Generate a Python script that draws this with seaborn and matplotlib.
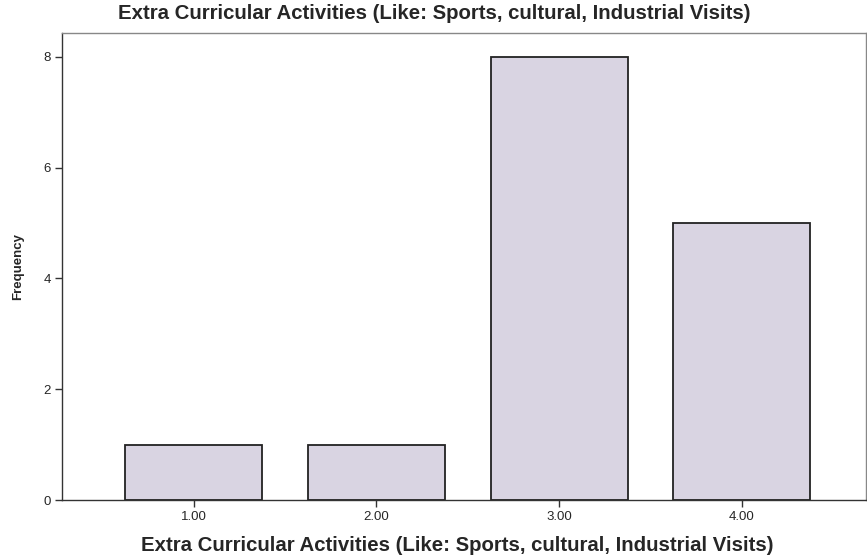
import matplotlib
matplotlib.use("Agg")
import matplotlib.pyplot as plt
import seaborn as sns
import pandas as pd

categories = ["1.00", "2.00", "3.00", "4.00"]
frequency = [1, 1, 8, 5]
yticks = [0, 2, 4, 6, 8]

sns.set_theme(style="white")
plt.rcParams['font.family'] = ['Liberation Sans', 'DejaVu Sans']

df = pd.DataFrame({"cat": categories, "freq": frequency})

fig = plt.figure(figsize=(8.67, 5.57), dpi=100)
ax = fig.add_axes([0.0715, 0.1023, 0.9275, 0.8385])
sns.barplot(data=df, x="cat", y="freq", ax=ax, color="#d9d4e2",
            edgecolor="#222222", linewidth=1.3, width=0.75, saturation=1)
ax.set_xlim(-0.72, 3.68)
ax.set_ylim(0, 8.43)
ax.set_yticks(yticks)
ax.set_yticklabels([str(v) for v in yticks])
for s in ax.spines.values():
    s.set_color("#333333")
    s.set_linewidth(1.0)
ax.spines["top"].set_color("#888888")
ax.spines["right"].set_color("#888888")
ax.tick_params(axis="both", direction="out", length=5, width=1, color="#333333",
               labelsize=9.5, pad=3, bottom=True, left=True)
ax.set_xlabel("Extra Curricular Activities (Like: Sports, cultural, Industrial Visits)",
              fontsize=14.7, fontweight="bold")
ax.xaxis.set_label_coords(0.491, -0.077)
ax.set_ylabel("Frequency", fontsize=9.5, fontweight="bold", labelpad=14)
ax.set_title("Extra Curricular Activities (Like: Sports, cultural, Industrial Visits)",
             fontsize=14.7, fontweight="bold", pad=10, x=0.463)
fig.savefig("out.png", dpi=100)
